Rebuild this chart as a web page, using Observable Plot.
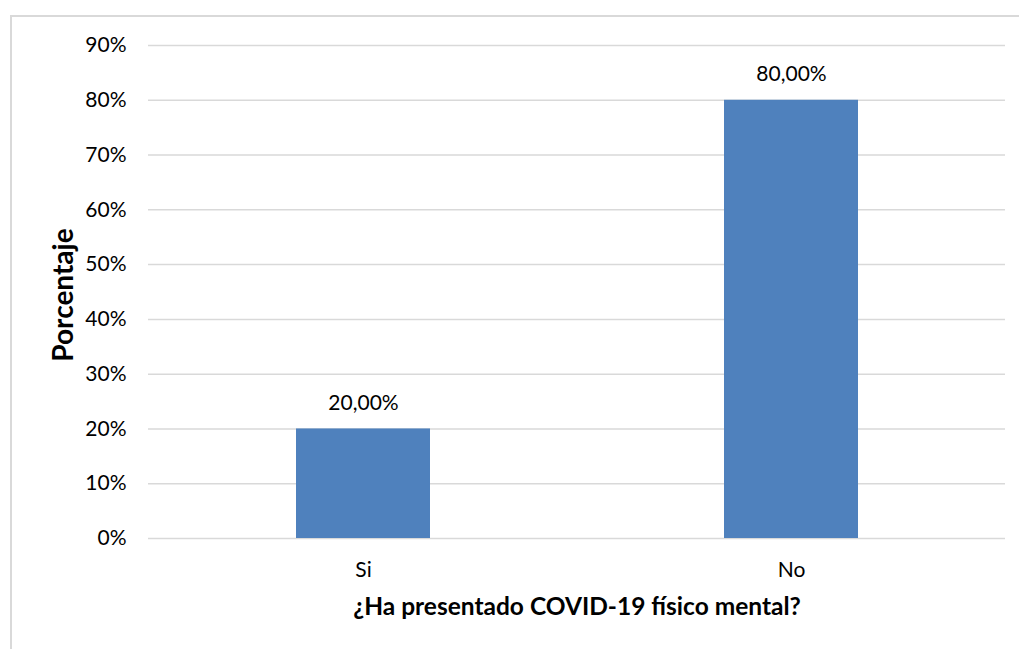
<!DOCTYPE html>
<html><head><meta charset="utf-8">
<script src="https://cdn.jsdelivr.net/npm/d3@7"></script>
<script src="https://cdn.jsdelivr.net/npm/@observablehq/plot@0.6"></script>
<style>
body{margin:0;background:#fff;}
#wrap{position:relative;width:1019px;height:649px;overflow:hidden;background:#fff;}
#wrap svg{position:absolute;left:0;top:0;}
#border{position:absolute;left:10px;top:15px;width:1100px;height:700px;border:2px solid #d9d9d9;pointer-events:none;}
</style></head><body><div id="wrap"><div id="border"></div></div>
<script>
const categories = ["Si", "No"];
const values = [0.20, 0.80];
const valueLabels = ["20,00%", "80,00%"];
const yTicks = [0, 0.1, 0.2, 0.3, 0.4, 0.5, 0.6, 0.7, 0.8, 0.9];
const xTitle = "¿Ha presentado COVID-19 físico mental?";
const yTitle = "Porcentaje";

const data = categories.map((c, i) => ({cat: c, value: values[i], label: valueLabels[i]}));

const chart = Plot.plot({
  width: 1019, height: 649,
  marginLeft: 148, marginRight: 14, marginTop: 45, marginBottom: 111,
  style: {fontFamily: "Lato", fontSize: "21px", color: "#000", background: "transparent"},
  x: {domain: categories, paddingInner: 0.687, paddingOuter: 0.343},
  y: {domain: [0, 0.9]},
  marks: [
    Plot.ruleY(yTicks, {stroke: "#d9d9d9", strokeWidth: 1.5}),
    Plot.barY(data, {x: "cat", y: "value", fill: "#4f81bd"}),
    Plot.text(data, {x: "cat", y: "value", text: "label", dy: -26, fill: "#000", fontSize: 21}),
    Plot.axisY(yTicks, {tickSize: 0, tickPadding: 22, tickFormat: d3.format(".0%"), label: null, fontSize: 21}),
    Plot.axisX({tickSize: 0, tickPadding: 24, label: null, fontSize: 21}),
    Plot.text([yTitle], {frameAnchor: "left", dx: -84, dy: 3, rotate: -90, textAnchor: "middle", lineAnchor: "middle", fontWeight: "bold", fontSize: 28}),
    Plot.text([xTitle], {frameAnchor: "bottom", dy: 69, textAnchor: "middle", lineAnchor: "middle", fontWeight: "bold", fontSize: 24.5})
  ]
});
document.getElementById("wrap").prepend(chart);
</script>
</body></html>
